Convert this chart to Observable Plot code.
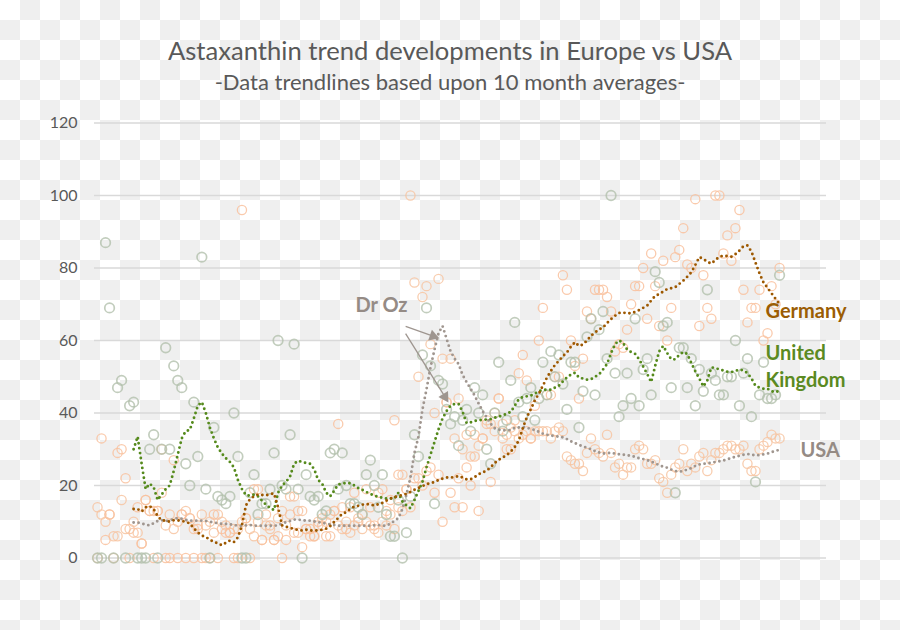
<!DOCTYPE html>
<html>
<head>
<meta charset="utf-8">
<script src="https://cdn.jsdelivr.net/npm/d3@7"></script>
<script src="https://cdn.jsdelivr.net/npm/@observablehq/plot@0.6"></script>
<style>
  html, body { margin: 0; padding: 0; }
  body {
    width: 900px; height: 630px; position: relative; overflow: hidden;
    background: repeating-conic-gradient(#efefef 0% 25%, #ffffff 0% 50%) 0 0 / 40px 40px;
    font-family: Lato, "Open Sans", sans-serif;
  }
  #title { position: absolute; left: 0; top: 35px; width: 900px; text-align: center;
           font-size: 25.6px; color: #595959; white-space: nowrap; }
  #subtitle { position: absolute; left: 0; top: 68px; width: 900px; text-align: center;
           font-size: 22px; color: #595959; white-space: nowrap; }
  #chart { position: absolute; left: 0; top: 100px; }
</style>
</head>
<body>
<div id="title">Astaxanthin trend developments in Europe vs USA</div>
<div id="subtitle">-Data trendlines based upon 10 month averages-</div>
<div id="chart"></div>
<script>
// ---- Data (monthly search interest, index 0 = first month) ----
const yTicks = [0, 20, 40, 60, 80, 100, 120];

const ukValues = [
  0, 0, 87, 69, 0, 47, 49, 0, 42, 43,
  0, 0, 0, 30, 34, 0, 30, 58, 30, 53,
  49, 47, 26, 20, 43, 28, 83, 19, 0, 36,
  17, 16, 15, 17, 40, 28, 0, 0, 18, 23,
  12, 15, 15, 19, 29, 60, 20, 19, 34, 59,
  19, 0, 23, 17, 16, 17, 12, 13, 29, 30,
  19, 29, 20, 15, 15, 14, 12, 23, 27, 20,
  14, 23, 12, 6, 6, 16, 0, 7, 17, 34,
  28, 56, 69, 53, 15, 49, 48, 41, 37, 39,
  31, 38, 41, 35, 47, 40, 45, 30, 26, 40,
  54, 35, 38, 49, 65, 43, 39, 44, 47, 38,
  44, 54, 45, 57, 50, 56, 48, 41, 54, 54,
  36, 46, 61, 66, 45, 63, 68, 55, 100, 51,
  39, 42, 51, 44, 66, 42, 52, 55, 45, 79,
  76, 64, 65, 47, 18, 58, 58, 47, 55, 42,
  52, 46, 74, 51, 49, 45, 45, 50, 50, 60,
  42, 51, 55, 39, 21, 45, 54, 44, 44, 45,
  78
];

const germanyValues = [
  0, 33, 5, 12, 0, 29, 30, 22, 0, 7,
  14, 4, 16, 13, 0, 13, 30, 0, 0, 27,
  0, 12, 0, 11, 0, 8, 0, 0, 0, 12,
  0, 8, 7, 7, 0, 0, 96, 11, 0, 19,
  19, 5, 12, 9, 5, 6, 0, 5, 17, 7,
  13, 3, 8, 6, 6, 10, 9, 6, 12, 13,
  37, 14, 8, 14, 18, 10, 12, 19, 14, 9,
  18, 19, 13, 16, 38, 23, 13, 19, 14, 22,
  22, 20, 24, 25, 18, 23, 10, 43, 18, 14,
  22, 14, 25, 20, 28, 13, 33, 37, 21, 40,
  44, 33, 30, 30, 38, 51, 56, 49, 33, 42,
  60, 69, 45, 45, 50, 50, 78, 74, 60, 53,
  44, 55, 68, 66, 74, 74, 74, 72, 68, 57,
  59, 58, 63, 70, 75, 75, 80, 66, 84, 75,
  64, 82, 60, 69, 83, 85, 91, 81, 80, 99,
  64, 78, 69, 66, 100, 100, 84, 89, 82, 91,
  96, 74, 65, 69, 69, 74, 60, 62, 75, 70,
  80
];

const usaValues = [
  14, 12, 10, 12, 6, 6, 16, 8, 8, 10,
  7, 4, 16, 13, 13, 13, 18, 9, 12, 8,
  10, 12, 13, 11, 8, 9, 12, 9, 10, 7,
  12, 10, 9, 7, 8, 8, 10, 11, 8, 6,
  10, 5, 9, 8, 5, 11, 13, 9, 12, 17,
  7, 13, 8, 8, 6, 9, 11, 10, 6, 13,
  9, 8, 10, 7, 9, 11, 8, 10, 9, 8,
  7, 10, 9, 12, 8, 14, 23, 19, 100, 76,
  50, 72, 75, 59, 40, 77, 55, 43, 55, 33,
  44, 30, 34, 28, 34, 31, 33, 38, 37, 35,
  44, 37, 34, 36, 35, 33, 34, 35, 33, 35,
  35, 35, 35, 33, 35, 36, 35, 28, 27, 26,
  26, 24, 29, 33, 30, 29, 28, 34, 29, 25,
  26, 23, 25, 25, 30, 31, 30, 26, 26, 27,
  22, 21, 18, 23, 25, 26, 30, 24, 26, 25,
  28, 29, 24, 27, 29, 29, 30, 31, 31, 30,
  30, 31, 26, 24, 24, 30, 31, 32, 34, 33,
  33
];

// 10-month average trendlines as drawn (first value at month 9)
const germanyTrend = [
  null, null, null, null, null, null, null, null, null, 13.5,
  13.5, 12.8, 14, 14.3, 13.5, 11.5, 10.4, 10.3, 10, 10.4,
  10.4, 10.2, 10, 9.5, 8.2, 7, 6.2, 5.8, 5, 4.5,
  4, 3.5, 4.2, 4.8, 4.4, 5.7, 9, 14.5, 16.2, 17,
  17.5, 17.4, 17.3, 17.6, 17.8, 14, 9, 8.6, 8.3, 8,
  7.7, 7.6, 7.8, 7.6, 7.6, 7.6, 7.8, 8.1, 8.8, 10,
  11, 12.2, 12.6, 13.5, 14.2, 14.4, 14.7, 14.9, 14.7, 14.5,
  14.8, 15.2, 15.8, 16.4, 16.8, 17.1, 17.4, 17.7, 18.2, 18.8,
  19.3, 19.8, 20.4, 20.6, 21, 21.5, 21.9, 22.2, 22.2, 22.3,
  22.6, 22.2, 21.7, 21.7, 22.3, 23.1, 23.6, 24.1, 25, 26.2,
  27.1, 27.7, 28.4, 29.3, 30.6, 32.4, 35.8, 38.8, 41, 43.5,
  45.3, 47.5, 49.7, 51.6, 53.2, 54.4, 55.7, 56.7, 58.3, 59.5,
  58.5, 58.9, 60, 61.3, 62.2, 63, 63.6, 64.8, 65.9, 66.8,
  67.6, 67.7, 67.5, 67.5, 67.9, 68.4, 69, 69.6, 71, 72.3,
  72.8, 73.5, 74.2, 74.4, 74.7, 75.6, 76.5, 77.6, 78.8, 80.8,
  83, 82.5, 81.7, 81.2, 82.2, 83.1, 83.4, 83.3, 83.1, 83.8,
  84.8, 86, 86.2, 84.5, 81.5, 78.5, 76, 74.5, 73, 71.5,
  70
];

const ukTrend = [
  null, null, null, null, null, null, null, null, null, 30,
  33.5, 26, 19, 20.5, 19.5, 16, 17.5, 19, 20, 24,
  28.5, 33, 35, 35.3, 38.5, 42, 43, 40, 36, 33,
  30.5, 28.8, 27.5, 26.5, 25, 21.5, 19, 17.3, 17.2, 17.5,
  17, 15.8, 14.7, 13.8, 13.2, 18, 20, 21, 22.5, 26,
  26.8, 26.5, 26.2, 26, 24.5, 21.5, 20.5, 18, 17, 18.6,
  20.3, 20.5, 20.7, 20.6, 20, 19.3, 18.8, 18.2, 17.7, 17.2,
  16.9, 16.6, 16.4, 16.4, 16.4, 18, 15.6, 14.5, 13.7, 16,
  18.5, 21, 25, 28.5, 32, 35.5, 38.5, 40.5, 42, 42.5,
  42.5, 40.3, 37.2, 37.4, 37.8, 38, 38.1, 38.2, 38.3, 38.7,
  39, 39.3, 39.8, 40.3, 42, 43.8, 44.4, 44.6, 44.8, 45.4,
  46, 46.4, 46.4, 46.4, 47, 47.5, 48.7, 49.8, 50.6, 51.1,
  49.8, 49.5, 49.2, 49.3, 50, 50.6, 52, 53.5, 56.5, 59,
  60, 59.3, 57.5, 56.8, 56.3, 54.8, 52.8, 50.8, 48.5, 53,
  57, 58.5, 56.5, 54.8, 54.8, 56, 56.8, 56.3, 53.8, 51.5,
  49.5, 47.3, 49, 52.6, 52.4, 52, 51.7, 51.4, 51.3, 51.6,
  52, 51.7, 51, 49.5, 47.5, 47, 46.7, 46.7, 46, 45.7,
  46.2
];

const usaTrend = [
  null, null, null, null, null, null, null, null, null, 9.8,
  9.8, 9.5, 9.2, 9, 9.6, 10.2, 10.4, 10.2, 10.3, 10.8,
  11, 10.8, 10.5, 10.3, 10.3, 10.3, 10.3, 10.2, 10, 9.8,
  9.6, 9.4, 9.4, 9.3, 9.1, 8.9, 8.9, 9, 9.1, 8.9,
  8.9, 8.9, 8.9, 8.9, 8.9, 9, 9.5, 9.9, 10.2, 10.6,
  10.6, 10.4, 10.3, 10.3, 10.1, 9.9, 9.7, 9.5, 9.3, 9.1,
  8.9, 8.9, 8.9, 8.9, 8.9, 8.9, 8.9, 8.9, 8.9, 9,
  9.1, 8.9, 8.9, 9.5, 10.2, 11, 13.5, 17.5, 22.2, 29,
  33.5, 41, 46.5, 52.6, 57.5, 62, 64, 60.5, 57, 55,
  53.5, 50.5, 48.5, 46.7, 44.8, 42.6, 40.5, 38.8, 37, 35.8,
  35.4, 35.3, 35.2, 35.3, 35.9, 36, 36.1, 35.9, 35.6, 35.3,
  34.8, 34.3, 34, 33.8, 33.6, 33.5, 33.3, 32.8, 32.2, 31.7,
  31.2, 30.8, 30.4, 30, 29.5, 29.1, 28.8, 28.9, 29, 28.8,
  28.6, 28.5, 28.3, 28.2, 27.9, 27.5, 27.3, 27, 26.6, 26.1,
  25.6, 25.2, 24.9, 24.4, 24, 23.8, 24, 24.4, 24.8, 25.4,
  25.8, 26, 26.1, 26.3, 26.5, 26.7, 26.9, 27.2, 27.6, 27.9,
  28.2, 28.5, 28.7, 28.5, 28.3, 28.4, 28.6, 28.8, 29.2, 29.6,
  29.8
];

// Annotations (in data units: month index, value)
const seriesLabels = [
  {text: "Germany", month: 166.5, value: 66.1, color: "#9b5d04"},
  {text: "United\nKingdom", month: 166.5, value: 47.1, color: "#5b8a22"},
  {text: "USA", month: 175.2, value: 27.8, color: "#958b85"},
  {text: "Dr Oz", month: 64.3, value: 68.0, color: "#958b85"}
];
const ozArrows = [
  {month1: 76.8, value1: 63.9, month2: 84.7, value2: 60.8},
  {month1: 76.8, value1: 61.9, month2: 87.2, value2: 43.4}
];

// ---- Build ----
const months = d3.range(ukValues.length);
const trendRows = (arr) => months.filter(i => arr[i] != null).map(i => ({month: i, value: arr[i]}));
const pointRows = (arr) => months.map(i => ({month: i, value: arr[i]}));

const dotted = {strokeWidth: 2.9, strokeDasharray: "0 5", strokeLinecap: "round", strokeLinejoin: "round"};

const chart = Plot.plot({
  width: 900,
  height: 500,
  marginTop: 22.5,
  marginBottom: 42.5,
  marginLeft: 94,
  marginRight: 74,
  style: {background: "transparent", fontFamily: "Lato, 'Open Sans', sans-serif", fontSize: "16px", color: "#595959"},
  x: {domain: [-0.75, 181.7], axis: null},
  y: {domain: [0, 120]},
  marks: [
    Plot.ruleY(yTicks, {stroke: "#d9d9d9", strokeWidth: 1.5}),
    Plot.axisY(yTicks, {tickSize: 0, tickPadding: 17, fontSize: 16, fill: "#595959", label: null}),
    Plot.dot(pointRows(usaValues), {x: "month", y: "value", r: 4.6, stroke: "#f7c4a1", strokeWidth: 1.3, strokeOpacity: 0.85}),
    Plot.dot(pointRows(germanyValues), {x: "month", y: "value", r: 4.6, stroke: "#f9c19d", strokeWidth: 1.3, strokeOpacity: 0.85}),
    Plot.dot(pointRows(ukValues), {x: "month", y: "value", r: 4.8, stroke: "#b3c0ac", strokeWidth: 1.7, strokeOpacity: 0.8}),
    Plot.line(trendRows(usaTrend), {x: "month", y: "value", stroke: "#a0968f", ...dotted}),
    Plot.line(trendRows(ukTrend), {x: "month", y: "value", stroke: "#558a1c", ...dotted}),
    Plot.line(trendRows(germanyTrend), {x: "month", y: "value", stroke: "#9d5800", ...dotted}),
    Plot.link(ozArrows, {x1: "month1", y1: "value1", x2: "month2", y2: "value2", stroke: "#9e958f", strokeWidth: 1.3}),
    Plot.dot([ozArrows[0]], {x: "month2", y: "value2", symbol: "triangle", r: 4.2, fill: "#9e958f", stroke: null, rotate: 109, dx: -4.2, dy: -1.4}),
    Plot.dot([ozArrows[1]], {x: "month2", y: "value2", symbol: "triangle", r: 4.2, fill: "#9e958f", stroke: null, rotate: 148, dx: -2.4, dy: -3.8}),
    Plot.text(seriesLabels, {x: "month", y: "value", text: "text", fill: "color", textAnchor: "start", lineAnchor: "bottom", lineHeight: 1.35, fontSize: 20, fontWeight: "bold"})
  ]
});
document.getElementById("chart").appendChild(chart);
</script>
</body>
</html>
